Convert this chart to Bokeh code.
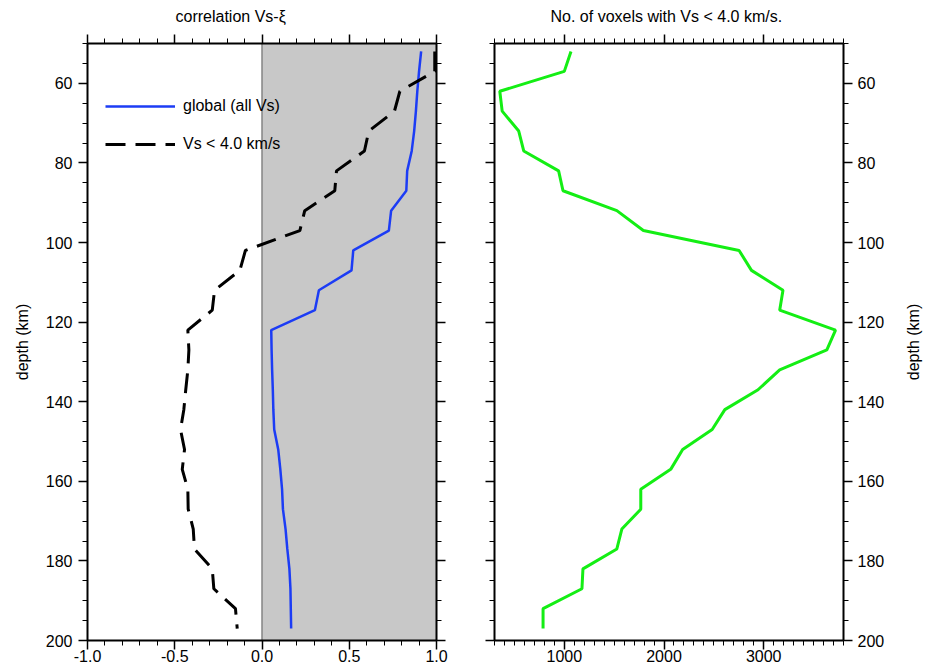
import math
from bokeh.plotting import figure
from bokeh.layouts import row
from bokeh.models import (Range1d, FixedTicker, LinearAxis, PrintfTickFormatter,
                          BoxAnnotation, Span, Legend, LegendItem,
                          CustomLabelingPolicy)
from bokeh.embed import file_html
from bokeh.resources import INLINE

# ---------------- data ----------------
depth = [52, 57, 62, 67, 72, 77, 82, 87, 92, 97,
         102, 107, 112, 117, 122, 127, 132, 137, 142, 147,
         152, 157, 162, 167, 172, 177, 182, 187, 192, 197]

corr_global = [0.912, 0.900, 0.890, 0.882, 0.872, 0.858, 0.832, 0.827, 0.740, 0.727,
               0.523, 0.513, 0.326, 0.303, 0.053, 0.055, 0.058, 0.062, 0.065, 0.070,
               0.093, 0.105, 0.115, 0.120, 0.135, 0.145, 0.157, 0.163, 0.165, 0.167]

corr_slow = [0.990, 0.990, 0.790, 0.759, 0.612, 0.587, 0.427, 0.417, 0.245, 0.217,
             -0.095, -0.127, -0.272, -0.285, -0.425, -0.419, -0.425, -0.437, -0.448, -0.467,
             -0.444, -0.457, -0.425, -0.423, -0.394, -0.387, -0.285, -0.276, -0.152, -0.142]

n_voxels = [1067, 1000, 353, 377, 543, 593, 943, 987, 1527, 1793,
            2753, 2877, 3193, 3160, 3720, 3633, 3160, 2943, 2610, 2483,
            2187, 2067, 1767, 1767, 1577, 1527, 1187, 1177, 787, 787]

corr_ticks = [-1.0, -0.5, 0.0, 0.5, 1.0]
corr_minor = [round(-1.0 + 0.1 * i, 1) for i in range(21)]
count_ticks = [1000, 2000, 3000]
count_minor = list(range(300, 3801, 100))
depth_ticks = [60, 80, 100, 120, 140, 160, 180, 200]
depth_minor = list(range(50, 201, 5))

FONT = "Liberation Sans"
FS = "16px"

no_labels = "for (const i of Array.from(indices)) { indices.unset(i) }\nreturn indices"


def style_axis(ax, show_labels=True):
    ax.axis_line_width = 2
    ax.axis_line_color = "black"
    ax.major_tick_out = 9
    ax.major_tick_in = 0
    ax.minor_tick_out = 5
    ax.minor_tick_in = 0
    ax.major_tick_line_width = 1.5
    ax.minor_tick_line_width = 1
    ax.major_tick_line_color = "black"
    ax.minor_tick_line_color = "black"
    ax.major_label_text_font = FONT
    ax.major_label_text_color = "black"
    ax.major_label_text_font_size = FS
    ax.axis_label_text_font = FONT
    ax.axis_label_text_font_style = "normal"
    ax.axis_label_text_font_size = FS
    ax.axis_label_text_color = "black"
    if not show_labels:
        ax.major_label_policy = CustomLabelingPolicy(code=no_labels)
        ax.major_label_text_font_size = "1px"
        ax.major_label_standoff = 0


def style_title(t, offset, align="left", standoff=11):
    t.align = align
    t.offset = offset
    t.text_font = FONT
    t.text_font_size = FS
    t.text_font_style = "normal"
    t.text_color = "black"
    t.standoff = standoff


# ---------------- left panel ----------------
p1 = figure(frame_width=349, frame_height=597, output_backend="svg", toolbar_location=None,
            x_range=Range1d(-1.0, 1.0), y_range=Range1d(200, 50),
            min_border_left=87, min_border_right=29, min_border_top=43, min_border_bottom=32,
            title="correlation Vs-ξ")
style_title(p1.title, 88)
p1.outline_line_color = None
p1.grid.visible = False

p1.xaxis.ticker = FixedTicker(ticks=corr_ticks, minor_ticks=corr_minor)
p1.xaxis.formatter = PrintfTickFormatter(format="%.1f")
p1.yaxis.ticker = FixedTicker(ticks=depth_ticks, minor_ticks=depth_minor)
p1.yaxis.axis_label = "depth (km)"
for ax in p1.xaxis:
    style_axis(ax)
    ax.major_label_standoff = 0
for ax in p1.yaxis:
    style_axis(ax)
    ax.major_label_standoff = 6
    ax.axis_label_standoff = 12

top1 = LinearAxis(ticker=FixedTicker(ticks=corr_ticks, minor_ticks=corr_minor))
style_axis(top1, show_labels=False)
p1.add_layout(top1, "above")
right1 = LinearAxis(ticker=FixedTicker(ticks=depth_ticks, minor_ticks=depth_minor))
style_axis(right1, show_labels=False)
p1.add_layout(right1, "right")

shade = BoxAnnotation(left=0, right=1, fill_color="#c8c8c8", fill_alpha=1.0,
                      line_color=None, level="underlay")
p1.add_layout(shade)
zero = Span(location=0, dimension="height", line_color="#858585", line_width=1.5,
            level="underlay")
p1.add_layout(zero)

r_glob = p1.line(corr_global, depth, line_color="#1c3cf5", line_width=2.5)
r_slow = p1.line(corr_slow, depth, line_color="black", line_width=3, line_dash="20 10")

legend = Legend(items=[LegendItem(label="global (all Vs)", renderers=[r_glob]),
                       LegendItem(label="Vs < 4.0 km/s", renderers=[r_slow])],
                location=(18, 486), glyph_width=70, glyph_height=20, label_standoff=8,
                spacing=18, padding=0, margin=0, border_line_color=None,
                background_fill_alpha=0, label_text_font=FONT, label_text_font_size=FS,
                label_text_color="black")
p1.add_layout(legend)

# ---------------- right panel ----------------
p2 = figure(frame_width=349, frame_height=597, output_backend="svg", toolbar_location=None,
            x_range=Range1d(300, 3800), y_range=Range1d(200, 50), y_axis_location="right",
            min_border_left=29, min_border_right=50, min_border_top=43, min_border_bottom=32,
            title="No. of voxels with Vs < 4.0 km/s.")
style_title(p2.title, 56)
p2.outline_line_color = None
p2.grid.visible = False

p2.xaxis.ticker = FixedTicker(ticks=count_ticks, minor_ticks=count_minor)
p2.yaxis.ticker = FixedTicker(ticks=depth_ticks, minor_ticks=depth_minor)
for ax in p2.xaxis:
    style_axis(ax)
    ax.major_label_standoff = 0
for ax in p2.yaxis:
    style_axis(ax)
    ax.major_label_standoff = 5

top2 = LinearAxis(ticker=FixedTicker(ticks=count_ticks, minor_ticks=count_minor))
style_axis(top2, show_labels=False)
p2.add_layout(top2, "above")
left2 = LinearAxis(ticker=FixedTicker(ticks=depth_ticks, minor_ticks=depth_minor))
style_axis(left2, show_labels=False)
p2.add_layout(left2, "left")

p2.line(n_voxels, depth, line_color="#14ee14", line_width=3)

# ---------------- right-hand axis title (reads bottom-to-top) ----------------
p3 = figure(width=36, height=672, output_backend="svg", toolbar_location=None,
            x_range=Range1d(0, 1), y_range=Range1d(0, 1),
            x_axis_location=None, y_axis_location=None,
            min_border_left=28, min_border_right=0, min_border_top=43, min_border_bottom=32,
            title="depth (km)", title_location="left")
style_title(p3.title, 0, align="center", standoff=0)
p3.outline_line_color = None
p3.grid.visible = False

layout = row(p1, p2, p3)
open("out.html", "w").write(file_html(layout, INLINE))
